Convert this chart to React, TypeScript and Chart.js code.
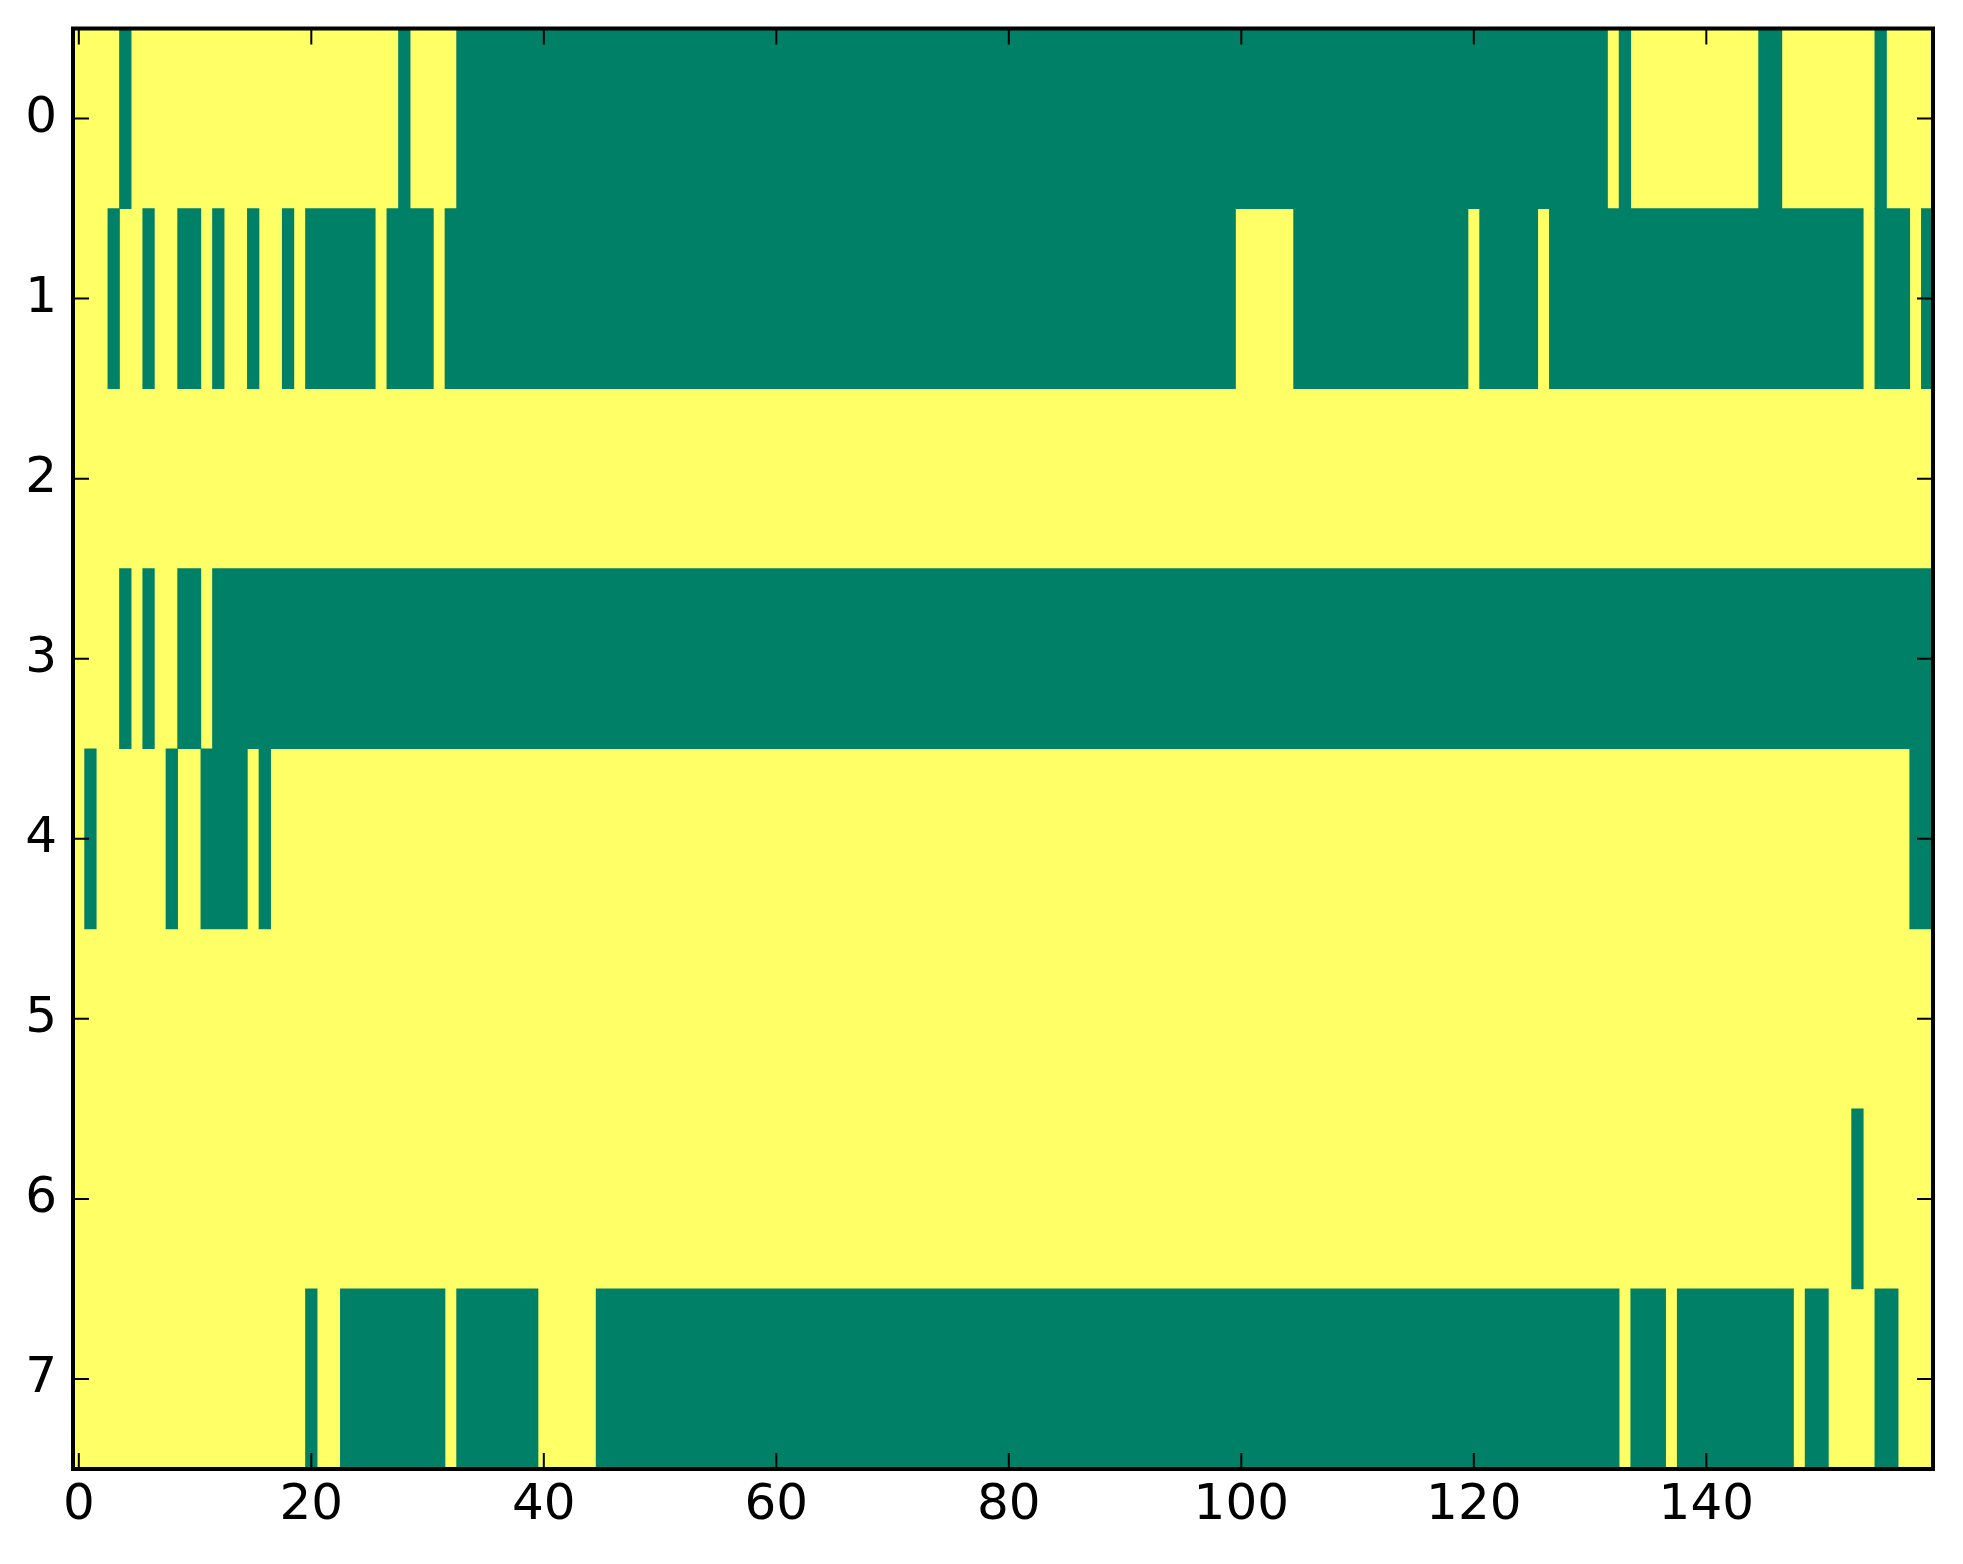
import React, { useEffect, useRef } from "react";
import { Chart, registerables } from "chart.js";

Chart.register(...registerables);

// Row (y) tick labels and x tick values
const rowLabels = ["0", "1", "2", "3", "4", "5", "6", "7"];
const xTickValues = [0, 20, 40, 60, 80, 100, 120, 140];
const columnCount = 160;

// Green cells per row as inclusive [start, end] column runs (everything else is yellow)
const row0Green = [[4, 4], [28, 28], [33, 131], [133, 133], [145, 146], [155, 155]];
const row1Green = [[3, 3], [6, 6], [9, 10], [12, 12], [15, 15], [18, 18], [20, 25], [27, 30], [32, 99], [105, 119], [121, 125], [127, 153], [155, 157], [159, 159]];
const row2Green: number[][] = [];
const row3Green = [[4, 4], [6, 6], [9, 10], [12, 159]];
const row4Green = [[1, 1], [8, 8], [11, 14], [16, 16], [158, 159]];
const row5Green: number[][] = [];
const row6Green = [[153, 153]];
const row7Green = [[20, 20], [23, 31], [33, 39], [45, 132], [134, 136], [138, 147], [149, 150], [155, 156]];

const greenRows = [row0Green, row1Green, row2Green, row3Green, row4Green, row5Green, row6Green, row7Green];

const GREEN = "#008066";
const YELLOW = "#ffff66";

function complementRuns(runs: number[][], n: number): number[][] {
  const out: number[][] = [];
  let cur = 0;
  for (const [s, e] of runs) {
    if (s > cur) out.push([cur, s - 1]);
    cur = e + 1;
  }
  if (cur <= n - 1) out.push([cur, n - 1]);
  return out;
}

const framePlugin = {
  id: "framePlugin",
  afterDraw(chart: any) {
    const { ctx, chartArea } = chart;
    const { left, right, top, bottom } = chartArea;
    const xs = chart.scales.x;
    const ys = chart.scales.y;
    const tickLen = 16;
    ctx.save();
    ctx.strokeStyle = "#000";
    ctx.lineWidth = 2;
    ctx.beginPath();
    xs.ticks.forEach((t: any) => {
      const px = xs.getPixelForValue(t.value);
      ctx.moveTo(px, bottom);
      ctx.lineTo(px, bottom - tickLen);
      ctx.moveTo(px, top);
      ctx.lineTo(px, top + tickLen);
    });
    ys.ticks.forEach((_t: any, i: number) => {
      const py = ys.getPixelForTick(i);
      ctx.moveTo(left, py);
      ctx.lineTo(left + tickLen, py);
      ctx.moveTo(right, py);
      ctx.lineTo(right - tickLen, py);
    });
    ctx.stroke();
    ctx.lineWidth = 4;
    ctx.strokeRect(left, top, right - left, bottom - top);
    ctx.restore();
  },
};

export default function App() {
  const canvasRef = useRef<HTMLCanvasElement | null>(null);

  useEffect(() => {
    if (!canvasRef.current) return;
    const greenData: any[] = [];
    const yellowData: any[] = [];
    greenRows.forEach((runs, r) => {
      runs.forEach(([s, e]) => greenData.push({ y: rowLabels[r], x: [s - 0.5, e + 0.5] }));
      complementRuns(runs, columnCount).forEach(([s, e]) =>
        yellowData.push({ y: rowLabels[r], x: [s - 0.5, e + 0.5] })
      );
    });

    const font = { family: "'DejaVu Sans', sans-serif", size: 50 };

    const chart = new Chart(canvasRef.current, {
      type: "bar",
      data: {
        labels: rowLabels,
        datasets: [
          {
            label: "green",
            data: greenData,
            backgroundColor: GREEN,
            borderWidth: 0,
            borderSkipped: false,
            barPercentage: 1,
            categoryPercentage: 1,
            grouped: false,
            order: 0,
          } as any,
          {
            label: "yellow",
            data: yellowData,
            backgroundColor: YELLOW,
            borderWidth: 0,
            borderSkipped: false,
            barPercentage: 1,
            categoryPercentage: 1,
            grouped: false,
            order: 1,
          } as any,
        ],
      },
      options: {
        indexAxis: "y",
        responsive: false,
        animation: false,
        devicePixelRatio: 1,
        layout: { padding: { top: 28.5, right: 30, left: 0, bottom: 0 } },
        plugins: { legend: { display: false }, tooltip: { enabled: false } },
        scales: {
          x: {
            type: "linear",
            min: -0.5,
            max: columnCount - 0.5,
            grid: { display: false, drawTicks: false },
            border: { display: false },
            ticks: { color: "#000", font, padding: 7, maxRotation: 0 },
            afterBuildTicks: (scale: any) => {
              scale.ticks = xTickValues.map((v) => ({ value: v }));
            },
            afterFit: (scale: any) => {
              scale.height = 95;
              scale.paddingLeft = 0;
              scale.paddingRight = 0;
            },
          },
          y: {
            type: "category",
            labels: rowLabels,
            offset: true,
            grid: { display: false, drawTicks: false },
            border: { display: false },
            ticks: { color: "#000", font, padding: 16 },
            afterFit: (scale: any) => {
              scale.width = 73;
              scale.paddingTop = 0;
              scale.paddingBottom = 0;
            },
          },
        },
      } as any,
      plugins: [framePlugin],
    });
    return () => chart.destroy();
  }, []);

  return (
    <div style={{ position: "absolute", left: 0, top: 0, width: 1963, height: 1564, background: "#fff" }}>
      <canvas ref={canvasRef} width={1963} height={1564} style={{ display: "block", width: 1963, height: 1564 }} />
    </div>
  );
}
